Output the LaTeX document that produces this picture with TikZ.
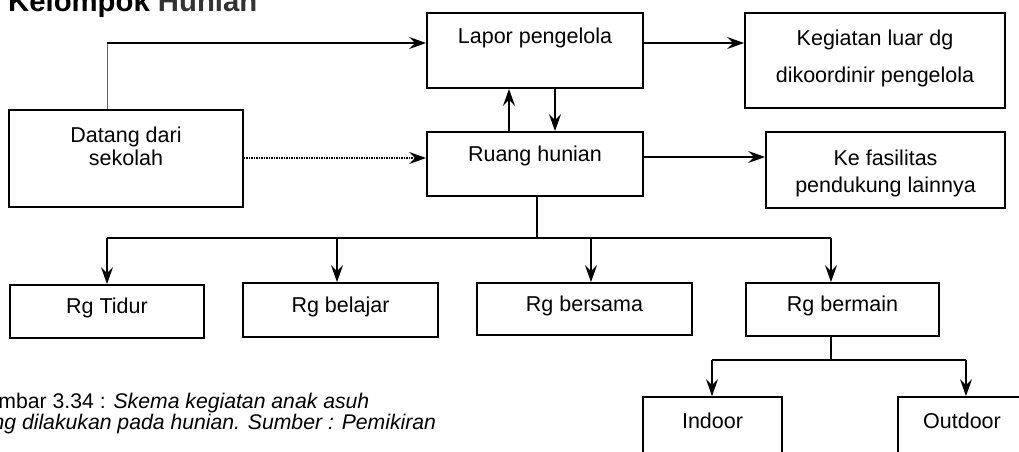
\documentclass[tikz,border=0pt]{standalone}
\usepackage{fontspec}
\setmainfont{Liberation Sans}
\usetikzlibrary{arrows.meta}
\newcommand{\boxtext}[3]{\raisebox{#1}[0pt][0pt]{\vbox{\baselineskip=#2\lineskiplimit=-\maxdimen\halign{\hfil##\hfil\cr#3\crcr}}}}
\newcommand{\leftlines}[2]{\vbox{\baselineskip=#1\lineskiplimit=-\maxdimen\halign{##\hfil\cr#2\crcr}}}
\tikzset{
  box/.style={draw, rectangle, line width=1.8pt, inner sep=0pt, font=\fontsize{21.5}{23}\selectfont},
  conn/.style={line width=1.6pt},
  arr/.style={line width=1.6pt, -{Stealth[length=17pt,width=12pt,inset=6pt]}},
  dotarr/.style={line width=2.2pt, dash pattern=on 1.4pt off 1.1pt, -{Stealth[length=17pt,width=12pt,inset=6pt]}},
  thinline/.style={line width=0.8pt, draw=black!60}
}
\begin{document}
\begin{tikzpicture}[x=1pt,y=-1pt]
\useasboundingbox (0,0) rectangle (1019,451);
% title (cut by top edge)
\node[anchor=base west, inner sep=0pt, font=\bfseries\fontsize{29.3}{30}\selectfont] (title) at (8,11) {Kelompok \textcolor{black!80}{Hunian}};
% boxes
\node[box, minimum width=216pt, minimum height=75pt] (lapor) at (535,50.5) {\boxtext{7.5pt}{23pt}{Lapor pengelola}};
\node[box, minimum width=260pt, minimum height=95pt] (kegiatan) at (875,60.5) {\boxtext{-21.5pt}{37pt}{Kegiatan luar dg\cr dikoordinir pengelola}};
\node[box, minimum width=216pt, minimum height=64pt] (ruang) at (535,164) {\boxtext{3pt}{23pt}{Ruang hunian}};
\node[box, minimum width=239pt, minimum height=76pt] (kefas) at (885.5,170) {\boxtext{-22pt}{27pt}{Ke fasilitas\cr pendukung lainnya}};
\node[box, minimum width=234pt, minimum height=97pt] (datang) at (126,158.5) {\boxtext{-6.5pt}{23pt}{Datang dari\cr sekolah}};
\node[box, minimum width=194pt, minimum height=53pt] (tidur) at (107,311.5) {\boxtext{-1.5pt}{23pt}{Rg Tidur}};
\node[box, minimum width=195pt, minimum height=54pt] (belajar) at (340.5,310) {\boxtext{-2pt}{23pt}{Rg belajar}};
\node[box, minimum width=215pt, minimum height=52pt] (bersama) at (584.5,309) {\boxtext{-2pt}{23pt}{Rg bersama}};
\node[box, minimum width=193pt, minimum height=53pt] (bermain) at (842.5,309.5) {\boxtext{-2pt}{23pt}{Rg bermain}};
\node[box, minimum width=139pt, minimum height=73pt] (indoor) at (712.5,433.5) {\boxtext{5.5pt}{23pt}{Indoor}};
\node[box, minimum width=128pt, minimum height=73pt] (outdoor) at (962,433.5) {\boxtext{5.5pt}{23pt}{Outdoor}};
% caption (cut by left edge)
\node[anchor=base west, inner sep=0pt, font=\fontsize{21.2}{21}\selectfont] (caption) at (-30,429)
  {\leftlines{21pt}{Gambar 3.34 : \textit{Skema kegiatan anak asuh}\cr \textit{yang dilakukan pada hunian. Sumber : Pemikiran}}};
% connectors
\coordinate (j1) at (107,43);
\draw[thinline] (datang.north -| j1) -- (j1);
\draw[arr] (j1) -- (j1 -| lapor.west);
\draw[arr] (lapor.east |- j1) -- (kegiatan.west |- j1);
\coordinate (r1) at (643,157);
\draw[arr] (ruang.east |- r1) -- (kefas.west |- r1);
\draw[dotarr] (datang.east |- 0,158) -- (ruang.west |- 0,158);
\coordinate (up) at (509,0);
\coordinate (dn) at (555,0);
\draw[arr] (ruang.north -| up) -- (lapor.south -| up);
\draw[arr] (lapor.south -| dn) -- (ruang.north -| dn);
% branch to rooms
\coordinate (bL) at (107,238);
\coordinate (bM) at (537,238);
\coordinate (bR) at (831,238);
\coordinate (a2) at (337,238);
\coordinate (a3) at (591,238);
\draw[conn] (ruang.south -| bM) -- (bM);
\draw[conn] (bL) -- (bR);
\draw[arr] (bL) -- (tidur.north);
\draw[arr] (a2) -- (a2 |- belajar.north);
\draw[arr] (a3) -- (a3 |- bersama.north);
\draw[arr] (bR) -- (bR |- bermain.north);
% branch to indoor/outdoor
\coordinate (cM) at (831,360);
\coordinate (cL) at (712,360);
\coordinate (cR) at (966,360);
\draw[conn] (bermain.south -| cM) -- (cM);
\draw[conn] (cL) -- (cR);
\draw[arr] (cL) -- (cL |- indoor.north);
\draw[arr] (cR) -- (cR |- outdoor.north);
\end{tikzpicture}
\end{document}
